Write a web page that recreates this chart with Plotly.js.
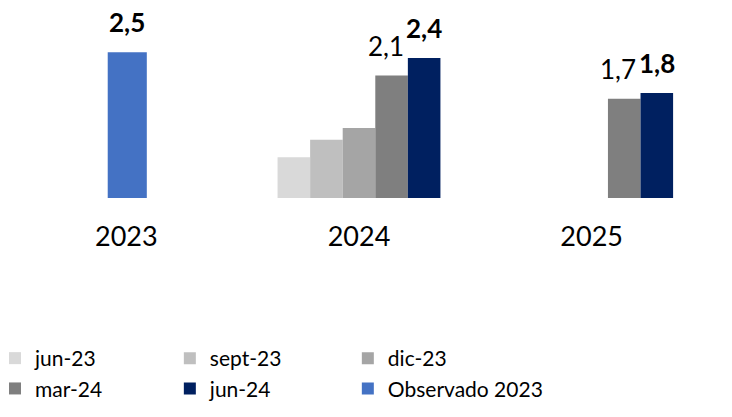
<!DOCTYPE html>
<html>
<head>
<meta charset="utf-8">
<script src="https://cdn.plot.ly/plotly-3.0.1.min.js"></script>
<style>html,body{margin:0;padding:0;background:#fff;}#chart{width:732px;height:417px;}</style>
</head>
<body>
<div id="chart"></div>
<script>
// ---- data ----
const categories = ['2023', '2024', '2025'];
const seriesNames = ['jun-23', 'sept-23', 'dic-23', 'mar-24', 'jun-24', 'Observado 2023'];
const jun23 = [null, 0.7, null];
const sept23 = [null, 1.0, null];
const dic23 = [null, 1.2, null];
const mar24 = [null, 2.1, 1.7];
const jun24 = [null, 2.4, 1.8];
const observado = [2.5, null, null];

// ---- style ----
const colors = ['#D9D9D9', '#BFBFBF', '#A5A5A5', '#7F7F7F', '#002060', '#4472C4'];
const values = [jun23, sept23, dic23, mar24, jun24, observado];
const barW = 0.14;
const offsets = [-0.35, -0.21, -0.07, 0.07, 0.21, -0.08];
const widths = [barW, barW, barW, barW, barW, 0.168];
const legendCol = ['legend', 'legend2', 'legend3', 'legend', 'legend2', 'legend3'];
const labelled = {3: {bold: false, xshift: -6}, 4: {bold: true, xshift: 0}, 5: {bold: true, xshift: 0}};
const FONT = 'Lato, "Open Sans", sans-serif';

const traces = values.map((v, i) => ({
  type: 'bar',
  name: seriesNames[i],
  x: categories,
  y: v,
  offset: offsets[i],
  width: widths[i],
  legend: legendCol[i],
  marker: {color: colors[i], line: {width: 0}},
  hoverinfo: 'skip'
}));

const fmt = v => v.toFixed(1).replace('.', ',');
const annotations = [];
Object.keys(labelled).forEach(k => {
  const i = +k, cfg = labelled[k];
  values[i].forEach((v, j) => {
    if (v === null) return;
    annotations.push({
      x: j + offsets[i] + widths[i] / 2,
      y: v,
      xref: 'x', yref: 'y',
      text: cfg.bold ? '<b>' + fmt(v) + '</b>' : fmt(v),
      showarrow: false,
      yanchor: 'bottom',
      xshift: cfg.xshift,
      yshift: 12,
      font: {family: FONT, size: 26, color: '#000'}
    });
  });
});

const legendBase = {
  orientation: 'v', y: -0.8, xanchor: 'left', yanchor: 'top',
  traceorder: 'normal', tracegroupgap: 0,
  font: {family: FONT, size: 21, color: '#000'},
  itemclick: false, itemdoubleclick: false
};

const layout = {
  width: 732, height: 417,
  margin: {l: 10, r: 24, t: 23, b: 219, autoexpand: false},
  paper_bgcolor: '#fff', plot_bgcolor: '#fff',
  barmode: 'overlay',
  showlegend: true,
  font: {family: FONT, color: '#000'},
  xaxis: {
    type: 'category', range: [-0.5, 2.5],
    showgrid: false, zeroline: false, showline: false, ticks: '',
    tickfont: {family: FONT, size: 27, color: '#000'},
    ticklabelstandoff: 20
  },
  yaxis: {range: [0, 3], visible: false, showgrid: false, zeroline: false},
  legend: Object.assign({}, legendBase, {x: -0.0215}),
  legend2: Object.assign({}, legendBase, {x: 0.229}),
  legend3: Object.assign({}, legendBase, {x: 0.484}),
  annotations: annotations
};

Plotly.newPlot('chart', traces, layout, {displayModeBar: false, staticPlot: true});
</script>
</body>
</html>
